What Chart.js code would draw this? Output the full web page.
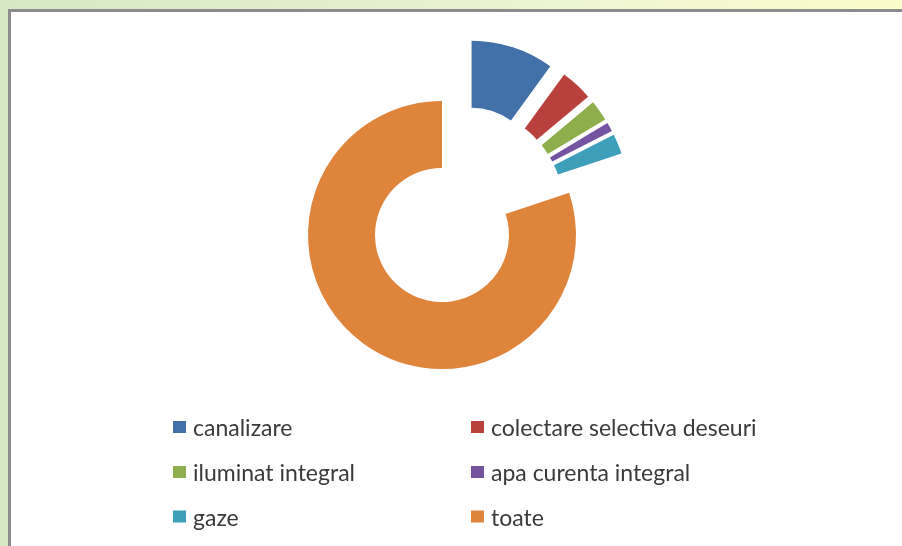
<!DOCTYPE html>
<html>
<head>
<meta charset="utf-8">
<script src="https://cdn.jsdelivr.net/npm/chart.js@4.4.1/dist/chart.umd.min.js"></script>
<style>
  html, body { margin: 0; padding: 0; }
  body {
    width: 902px; height: 546px; overflow: hidden; position: relative;
    background: linear-gradient(to right, #d6e8c6 0%, #e3efcf 40%, #f3f8d2 75%, #fafcc9 100%);
  }
  #panel {
    position: absolute; left: 8px; top: 9px; right: -10px; bottom: -10px;
    background: #fff;
    border-left: 3px solid #8c8c8c;
    border-top: 3px solid #8c8c8c;
  }
  #donutchart { position: absolute; left: 0; top: 0; }
</style>
</head>
<body>
<div id="panel"></div>
<canvas id="donutchart" width="902" height="546"></canvas>
<script>
var labels = [
    'canalizare',
    'colectare selectiva deseuri',
    'iluminat integral',
    'apa curenta integral',
    'gaze',
    'toate'
];

// share of each category (%)
var values = [10.0, 3.9, 2.5, 1.1, 2.4, 80.1];

var colors = ['#4270a9', '#b9413d', '#8dae4a', '#7453a0', '#3e9fbb', '#de843b'];

// the small slices are pulled out as a group, then each one a bit more (px)
var groupPull = 31;
var explode = [37, 37, 37, 37, 37, 0];

// legend drawn in two columns like the original
var legendGrid = {
    colX: [173, 471],
    rowY: [427.5, 472.5, 517],
    box: 13,
    font: '23px Lato'
};

var explodeSlices = {
    id: 'explodeSlices',
    beforeDatasetDraw: function (chart, args) {
        var ctx = chart.ctx;
        var arcs = args.meta.data;
        // middle angle of the pulled-out group
        var first = null, last = null;
        arcs.forEach(function (arc, i) {
            if (explode[i]) {
                if (first === null) first = arc.startAngle;
                last = arc.endAngle;
            }
        });
        var groupMid = (first + last) / 2;
        arcs.forEach(function (arc, i) {
            var d = explode[i] || 0;
            var g = d ? groupPull : 0;
            var mid = (arc.startAngle + arc.endAngle) / 2;
            ctx.save();
            ctx.translate(Math.cos(mid) * d + Math.cos(groupMid) * g,
                          Math.sin(mid) * d + Math.sin(groupMid) * g);
            arc.draw(ctx);
            ctx.restore();
        });
        return false;
    }
};

var twoColLegend = {
    id: 'twoColLegend',
    afterDraw: function (chart) {
        var ctx = chart.ctx;
        var ds = chart.data.datasets[0];
        ctx.save();
        ctx.font = legendGrid.font;
        ctx.textBaseline = 'alphabetic';
        ctx.textAlign = 'left';
        chart.data.labels.forEach(function (lbl, i) {
            var x = legendGrid.colX[i % 2];
            var y = legendGrid.rowY[Math.floor(i / 2)];
            ctx.fillStyle = ds.backgroundColor[i];
            ctx.fillRect(x, y - legendGrid.box / 2, legendGrid.box, legendGrid.box - 1);
            ctx.fillStyle = '#3a3a3a';
            ctx.fillText(lbl, x + 20, y + 8.5);
        });
        ctx.restore();
    }
};

var donutchart = document.querySelector('#donutchart').getContext('2d');

var myPieChart = new Chart(donutchart, {
    type: 'doughnut',
    data: {
        labels: labels,
        datasets: [{
            data: values,
            backgroundColor: colors,
            borderWidth: 0
        }]
    },
    options: {
        responsive: false,
        animation: false,
        events: [],
        cutout: '50%',
        radius: 134,
        layout: {
            padding: { left: 274, right: 292, top: 67, bottom: 143 }
        },
        plugins: {
            legend: { display: false },
            tooltip: { enabled: false }
        }
    },
    plugins: [explodeSlices, twoColLegend]
});
</script>
</body>
</html>
